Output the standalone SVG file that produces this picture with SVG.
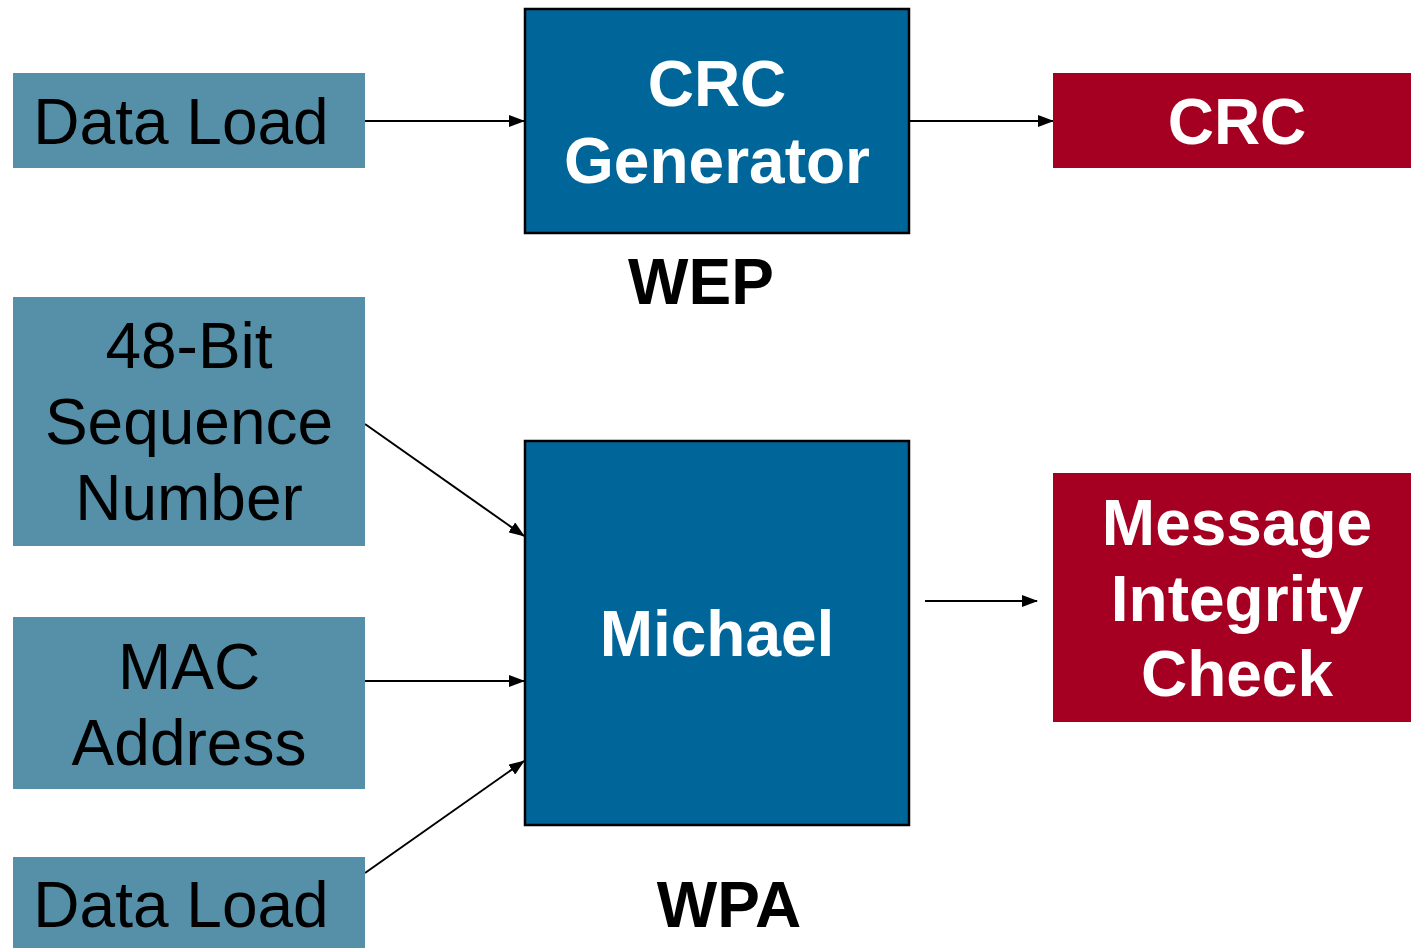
<svg xmlns="http://www.w3.org/2000/svg" width="1411" height="948" viewBox="0 0 1411 948">
<style>
.in{fill:#5590A8}
.proc{fill:#006699;stroke:#000;stroke-width:2.5}
.out{fill:#A50021}
.t{font-family:"Liberation Sans",Arial,sans-serif;font-size:64px;text-anchor:middle}
.dk{fill:#000}
.wb{fill:#fff;font-weight:bold}
.kb{fill:#000;font-weight:bold}
.c{stroke:#000;stroke-width:2;fill:none;marker-end:url(#ah)}
</style>
<defs>
<marker id="ah" markerWidth="16" markerHeight="12" refX="15" refY="6" orient="auto" markerUnits="userSpaceOnUse">
<path d="M0,0 L16,6 L0,12 Z" fill="#000"/>
</marker>
</defs>
<rect width="1411" height="948" fill="#fff"/>
<g id="connectors">
<line class="c" x1="365" y1="121" x2="524" y2="121"/>
<line class="c" x1="910" y1="121" x2="1053" y2="121"/>
<line class="c" x1="365" y1="424" x2="524" y2="536"/>
<line class="c" x1="365" y1="681" x2="524" y2="681"/>
<line class="c" x1="365" y1="873" x2="524" y2="761"/>
<line class="c" x1="925" y1="601" x2="1037" y2="601"/>
</g>
<g id="dataload1">
<rect class="in" x="13" y="73" width="352" height="95"/>
<text class="t dk" x="181" y="144">Data Load</text>
</g>
<g id="crcgen">
<rect class="proc" x="525" y="9" width="384" height="224"/>
<text class="t wb" x="717" y="106">CRC</text>
<text class="t wb" x="717" y="183">Generator</text>
</g>
<g id="crc">
<rect class="out" x="1053" y="73" width="358" height="95"/>
<text class="t wb" x="1237" y="144">CRC</text>
</g>
<g id="wep">
<text class="t kb" x="701" y="304">WEP</text>
</g>
<g id="seq">
<rect class="in" x="13" y="297" width="352" height="249"/>
<text class="t dk" x="189" y="368">48-Bit</text>
<text class="t dk" x="189" y="444">Sequence</text>
<text class="t dk" x="189" y="520">Number</text>
</g>
<g id="mac">
<rect class="in" x="13" y="617" width="352" height="172"/>
<text class="t dk" x="189" y="689">MAC</text>
<text class="t dk" x="189" y="765">Address</text>
</g>
<g id="dataload2">
<rect class="in" x="13" y="857" width="352" height="91"/>
<text class="t dk" x="181" y="927">Data Load</text>
</g>
<g id="michael">
<rect class="proc" x="525" y="441" width="384" height="384"/>
<text class="t wb" x="717" y="656">Michael</text>
</g>
<g id="mic">
<rect class="out" x="1053" y="473" width="358" height="249"/>
<text class="t wb" x="1237" y="545">Message</text>
<text class="t wb" x="1237" y="621">Integrity</text>
<text class="t wb" x="1237" y="696">Check</text>
</g>
<g id="wpa">
<text class="t kb" x="729" y="927">WPA</text>
</g>
</svg>
